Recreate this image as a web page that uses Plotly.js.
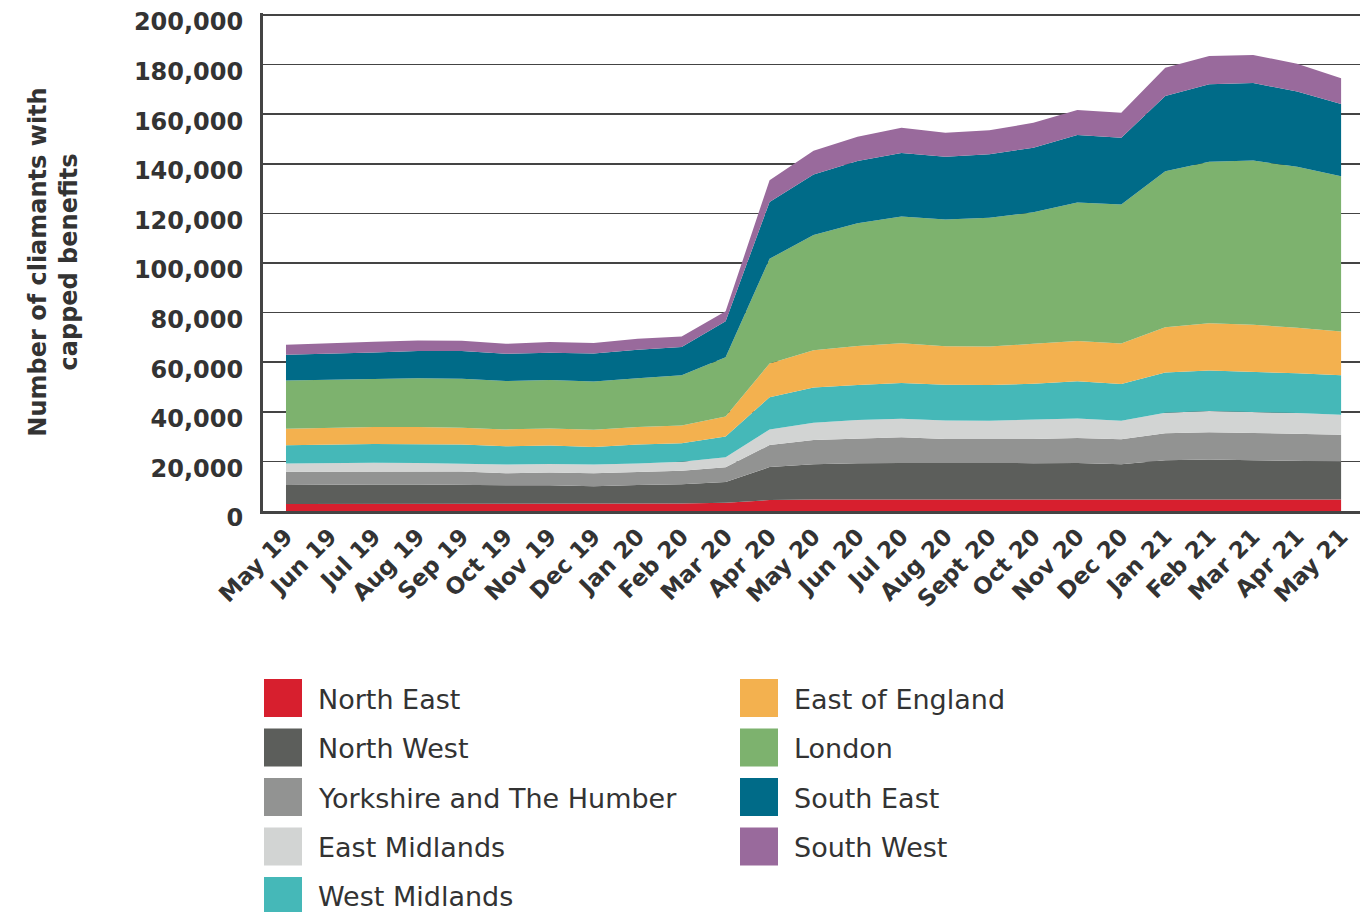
<!DOCTYPE html>
<html>
<head>
<meta charset="utf-8">
<script src="https://cdn.plot.ly/plotly-3.0.1.min.js"></script>
<style>
  html, body { margin: 0; padding: 0; background: #ffffff; }
  #chart { width: 1360px; height: 912px; }
</style>
</head>
<body>
<div id="chart"></div>
<script>
// ---- Data ----
const months = ["May 19","Jun 19","Jul 19","Aug 19","Sep 19","Oct 19","Nov 19","Dec 19","Jan 20","Feb 20","Mar 20","Apr 20","May 20","Jun 20","Jul 20","Aug 20","Sept 20","Oct 20","Nov 20","Dec 20","Jan 21","Feb 21","Mar 21","Apr 21","May 21"];

const northEast = [2800,2800,2800,2800,2800,2800,2800,2800,2800,3000,3300,4400,4600,4600,4600,4600,4600,4600,4600,4600,4600,4600,4600,4600,4600];
const northWest = [7700,7900,7900,7900,7700,7600,7600,7200,7700,7800,8400,13300,14300,14700,14800,14700,14700,14700,14800,14300,15900,16200,15900,15600,15400];
const yorkshire = [5300,5200,5300,5300,5400,4800,5100,5200,5300,5400,5900,8900,9700,9800,10300,9700,9600,9700,10000,10000,10800,11000,11000,10900,10700];
const eastMidlands = [3400,3500,3500,3400,3300,3500,3500,3500,3400,3700,4100,6300,7000,7600,7500,7500,7500,7800,7900,7500,8300,8500,8500,8400,8100];
const westMidlands = [7300,7400,7500,7500,7600,7400,7400,7100,7600,7400,8300,13000,14200,14100,14400,14400,14400,14500,15000,14800,16200,16400,16200,16000,15900];
const eastOfEngland = [6700,6800,6900,7000,6800,6800,6900,7000,7100,7200,8100,13600,15000,15700,16000,15500,15500,16100,16200,16300,18300,19000,18900,18400,17700];
const london = [19400,19300,19300,19600,19700,19500,19500,19400,19600,20200,23900,42200,46500,49500,51100,51100,51900,53100,55900,56100,62900,65100,66200,64900,62600];
const southEast = [10400,10500,10700,11000,11200,11000,11000,11300,11500,11400,14500,22900,24400,25100,25700,25300,25600,26000,27200,26900,30300,31300,31300,30300,29100];
const southWest = [4000,4300,4300,4200,4100,4000,4300,4200,4500,4300,4000,8800,9600,9800,10100,9700,9700,10000,10100,10100,11400,11400,11300,11200,10400];

const seriesNames = ["North East","North West","Yorkshire and The Humber","East Midlands","West Midlands","East of England","London","South East","South West"];
const seriesValues = [northEast,northWest,yorkshire,eastMidlands,westMidlands,eastOfEngland,london,southEast,southWest];
const seriesColors = ["#d71f2e","#5c5e5b","#929392","#d2d4d3","#45b8b8","#f3b14f","#7db26e","#006b88","#996a9c"];

const yTickVals = [0,20000,40000,60000,80000,100000,120000,140000,160000,180000,200000];
const yTickText = ["0","20,000","40,000","60,000","80,000","100,000","120,000","140,000","160,000","180,000","200,000"];
const yTitle = "Number of cliamants with<br>capped benefits";

// ---- Layout geometry ----
const W = 1360, H = 912;
const M = {l: 263, r: 0, t: 13, b: 401};
const plotW = W - M.l - M.r, plotH = H - M.t - M.b;
const px2x = px => (px - M.l) / plotW;
const px2y = py => (H - M.b - py) / plotH;

const textColor = "#333333";
const axisColor = "#444444";

const traces = seriesNames.map((name, i) => ({
  type: "scatter",
  mode: "lines",
  x: months,
  y: seriesValues[i],
  name: name,
  stackgroup: "one",
  line: {width: 0, color: seriesColors[i], shape: "linear"},
  fillcolor: seriesColors[i],
  hoverinfo: "x+y+name"
}));

// Manual legend: two columns of large square swatches
const shapes = [];
const annotations = [];
seriesNames.forEach((name, i) => {
  const col = i < 5 ? 0 : 1;
  const row = i < 5 ? i : i - 5;
  const sx = col === 0 ? 264 : 740;
  const top = 679 + row * 49.5;
  const size = 38;
  shapes.push({
    type: "rect", xref: "paper", yref: "paper",
    x0: px2x(sx), x1: px2x(sx + size),
    y0: px2y(top + size), y1: px2y(top),
    fillcolor: seriesColors[i], line: {width: 0}, layer: "above"
  });
  annotations.push({
    xref: "paper", yref: "paper",
    x: px2x(sx + 52), y: px2y(top + size / 2 + 1),
    xanchor: "left", yanchor: "middle",
    text: name, showarrow: false,
    font: {family: "DejaVu Sans", size: 27, color: textColor}
  });
});

const layout = {
  width: W, height: H,
  margin: M,
  paper_bgcolor: "#ffffff",
  plot_bgcolor: "#ffffff",
  showlegend: false,
  xaxis: {
    type: "category",
    range: [-0.523, 24.43],
    showgrid: false,
    zeroline: false,
    showline: true,
    linecolor: axisColor,
    linewidth: 3,
    ticks: "",
    tickangle: -45,
    tickfont: {family: "DejaVu Sans", size: 23, color: textColor, weight: "bold"},
    fixedrange: true
  },
  yaxis: {
    range: [0, 200800],
    tickvals: yTickVals,
    ticktext: yTickText,
    showgrid: true,
    gridcolor: axisColor,
    gridwidth: 1.6,
    zeroline: false,
    showline: true,
    linecolor: axisColor,
    linewidth: 3,
    ticks: "",
    ticklabelstandoff: 12,
    ticklabelshift: 7,
    tickfont: {family: "DejaVu Sans", size: 24, color: textColor, weight: "bold"},
    title: {
      text: yTitle,
      standoff: 50,
      font: {family: "DejaVu Sans", size: 24, color: textColor, weight: "bold"}
    },
    fixedrange: true
  },
  shapes: shapes,
  annotations: annotations
};

Plotly.newPlot("chart", traces, layout, {displayModeBar: false, staticPlot: true});
</script>
</body>
</html>
